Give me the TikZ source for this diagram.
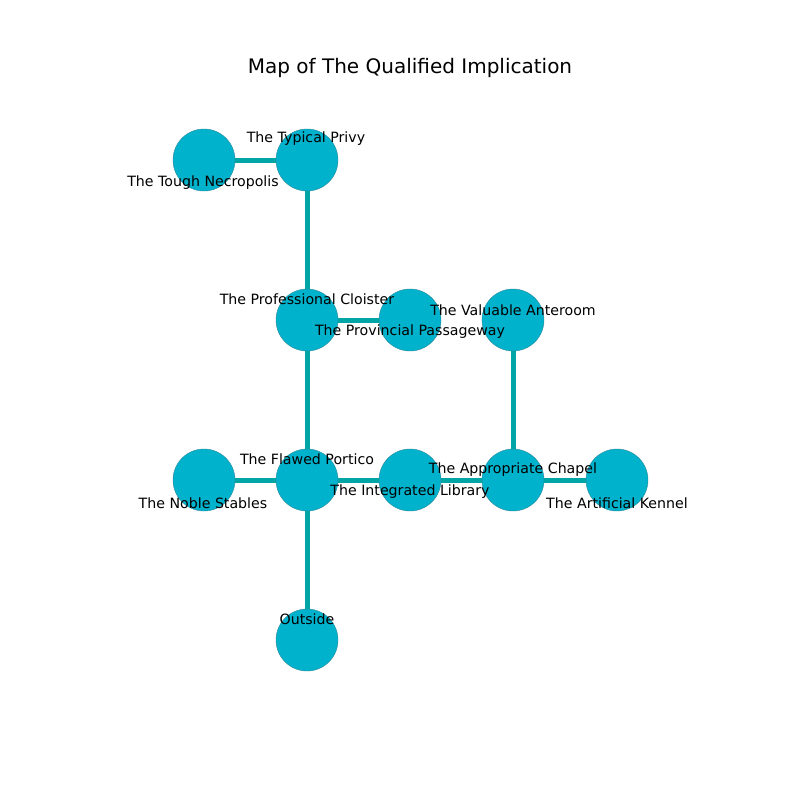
\documentclass[tikz,border=0pt]{standalone}
\usepackage{fontspec}
\setmainfont{DejaVu Sans}
\definecolor{nodefill}{HTML}{00B2CC}
\definecolor{nodeline}{HTML}{2E8A9A}
\definecolor{edgecol}{HTML}{00A5A5}
\begin{document}
\begin{tikzpicture}[x=0.72pt,y=-0.72pt,
  room/.style={circle,fill=nodefill,draw=nodeline,line width=0.3pt,minimum size=62*0.72pt,inner sep=0pt},
  link/.style={draw=edgecol,line width=3.6pt},
  lbl/.style={font=\fontsize{10.2}{12}\selectfont,inner sep=0pt,anchor=center},
  ttl/.style={font=\fontsize{14.4}{17}\selectfont,inner sep=0pt}]
\useasboundingbox (0,0) rectangle (800,800);
\node[ttl] (title) at (410,68) {Map of The Qualified Implication};
\coordinate (pNec) at (204,160);
\coordinate (pPri) at (307,160);
\coordinate (pClo) at (307,320);
\coordinate (pPas) at (410,320);
\coordinate (pAnt) at (513,320);
\coordinate (pPor) at (307,480);
\coordinate (pSta) at (204,480);
\coordinate (pLib) at (410,480);
\coordinate (pCha) at (513,480);
\coordinate (pKen) at (617,480);
\coordinate (pOut) at (307,640);
\draw[link] (pNec) -- (pPri);
\draw[link] (pPri) -- (pClo);
\draw[link] (pClo) -- (pPas);
\draw[link] (pClo) -- (pPor);
\draw[link] (pAnt) -- (pCha);
\draw[link] (pPor) -- (pSta);
\draw[link] (pPor) -- (pLib);
\draw[link] (pLib) -- (pCha);
\draw[link] (pCha) -- (pKen);
\draw[link] (pPor) -- (pOut);
\node[room] (nec) at (pNec) {};
\node[room] (pri) at (pPri) {};
\node[room] (clo) at (pClo) {};
\node[room] (pas) at (pPas) {};
\node[room] (ant) at (pAnt) {};
\node[room] (por) at (pPor) {};
\node[room] (sta) at (pSta) {};
\node[room] (lib) at (pLib) {};
\node[room] (cha) at (pCha) {};
\node[room] (ken) at (pKen) {};
\node[room] (out) at (pOut) {};
\node[lbl] (lNec) at (203,183) {The Tough Necropolis};
\node[lbl] (lPri) at (306,139) {The Typical Privy};
\node[lbl] (lClo) at (307,299) {The Professional Cloister};
\node[lbl] (lPas) at (410,332) {The Provincial Passageway};
\node[lbl] (lAnt) at (513,310) {The Valuable Anteroom};
\node[lbl] (lPor) at (307,459) {The Flawed Portico};
\node[lbl] (lSta) at (203,503) {The Noble Stables};
\node[lbl] (lLib) at (410,492) {The Integrated Library};
\node[lbl] (lCha) at (513,470) {The Appropriate Chapel};
\node[lbl] (lKen) at (617,503) {The Artificial Kennel};
\node[lbl] (lOut) at (307,619) {Outside};
\end{tikzpicture}
\end{document}
